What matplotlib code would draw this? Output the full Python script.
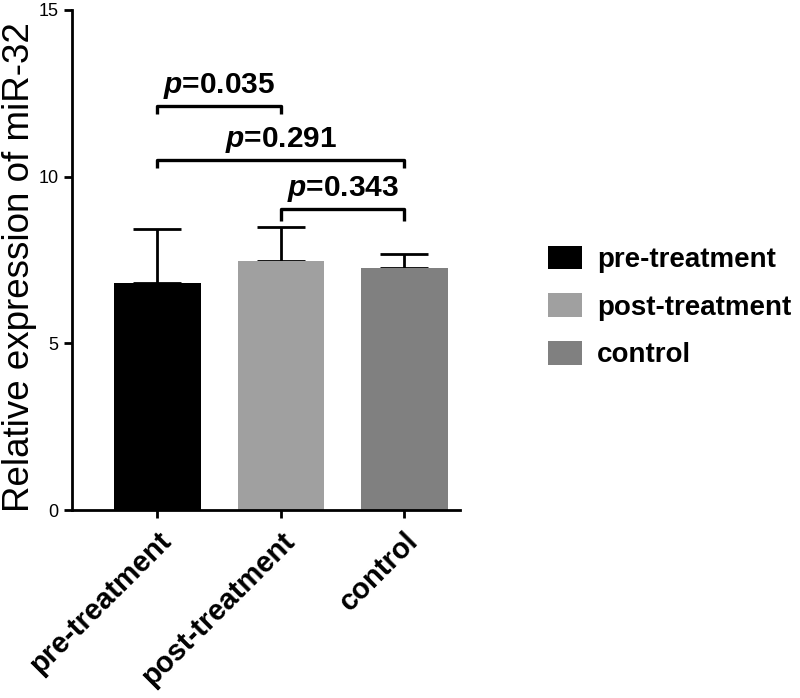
import matplotlib.pyplot as plt
import numpy as np

# bar data
groups = ["pre-treatment", "post-treatment", "control"]
means = [6.82, 7.48, 7.27]
sd_upper = [1.62, 1.02, 0.42]
colors = ["#000000", "#a0a0a0", "#808080"]

# significance brackets: (left group, right group, height, leg drop, label)
brackets = [
    (0, 1, 12.13, 0.25, "0.035"),
    (0, 2, 10.50, 0.25, "0.291"),
    (1, 2, 9.04, 0.36, "0.343"),
]

plt.rcParams["font.family"] = ["Liberation Sans", "DejaVu Sans"]
plt.rcParams["mathtext.fontset"] = "custom"
plt.rcParams["mathtext.it"] = "Liberation Sans:italic:bold"
plt.rcParams["mathtext.rm"] = "Liberation Sans:bold"

fig = plt.figure(figsize=(8, 6.98), dpi=100)
ax = fig.add_axes([0.09, 0.2693, 0.485, 0.7164])

x = np.arange(len(groups))
bars = ax.bar(x, means, width=0.7, color=colors, label=groups, zorder=2)
ax.errorbar(x, means, yerr=[np.zeros(len(x)), sd_upper], fmt="none",
            ecolor="black", elinewidth=2, capsize=17, capthick=2, zorder=1)

for i, j, h, drop, txt in brackets:
    ax.plot([x[i], x[i], x[j], x[j]], [h - drop, h, h, h - drop],
            color="black", lw=2.4, solid_capstyle="butt", clip_on=False)
    ax.text((x[i] + x[j]) / 2, h + 0.15, "$p$=" + txt,
            ha="center", va="bottom", fontsize=21.5, fontweight="bold")

ax.set_xlim(-0.69, 2.45)
ax.set_ylim(0, 15)
ax.set_yticks([0, 5, 10, 15])
ax.set_xticks(x)
ax.set_xticklabels(groups, rotation=45, ha="right", rotation_mode="anchor",
                   fontsize=21, fontweight="bold")
ax.tick_params(axis="y", labelsize=13, width=2, length=6)
ax.tick_params(axis="x", width=2, length=6, pad=6)
for s in ["top", "right"]:
    ax.spines[s].set_visible(False)
for s in ["left", "bottom"]:
    ax.spines[s].set_linewidth(2)

# y label placed by hand so it sits at the left edge like the original
fig.text(0.003, 0.618, "Relative expression of miR-32", rotation=90,
         ha="left", va="center", fontsize=26.5)

leg = fig.legend(handles=bars, labels=groups, loc="center left",
                 bbox_to_anchor=(0.685, 0.56), frameon=False,
                 prop={"size": 20, "weight": "bold"},
                 handlelength=1.22, handleheight=0.93, handletextpad=0.55,
                 labelspacing=0.73, borderpad=0, borderaxespad=0)

fig.savefig("out.png", dpi=100)
